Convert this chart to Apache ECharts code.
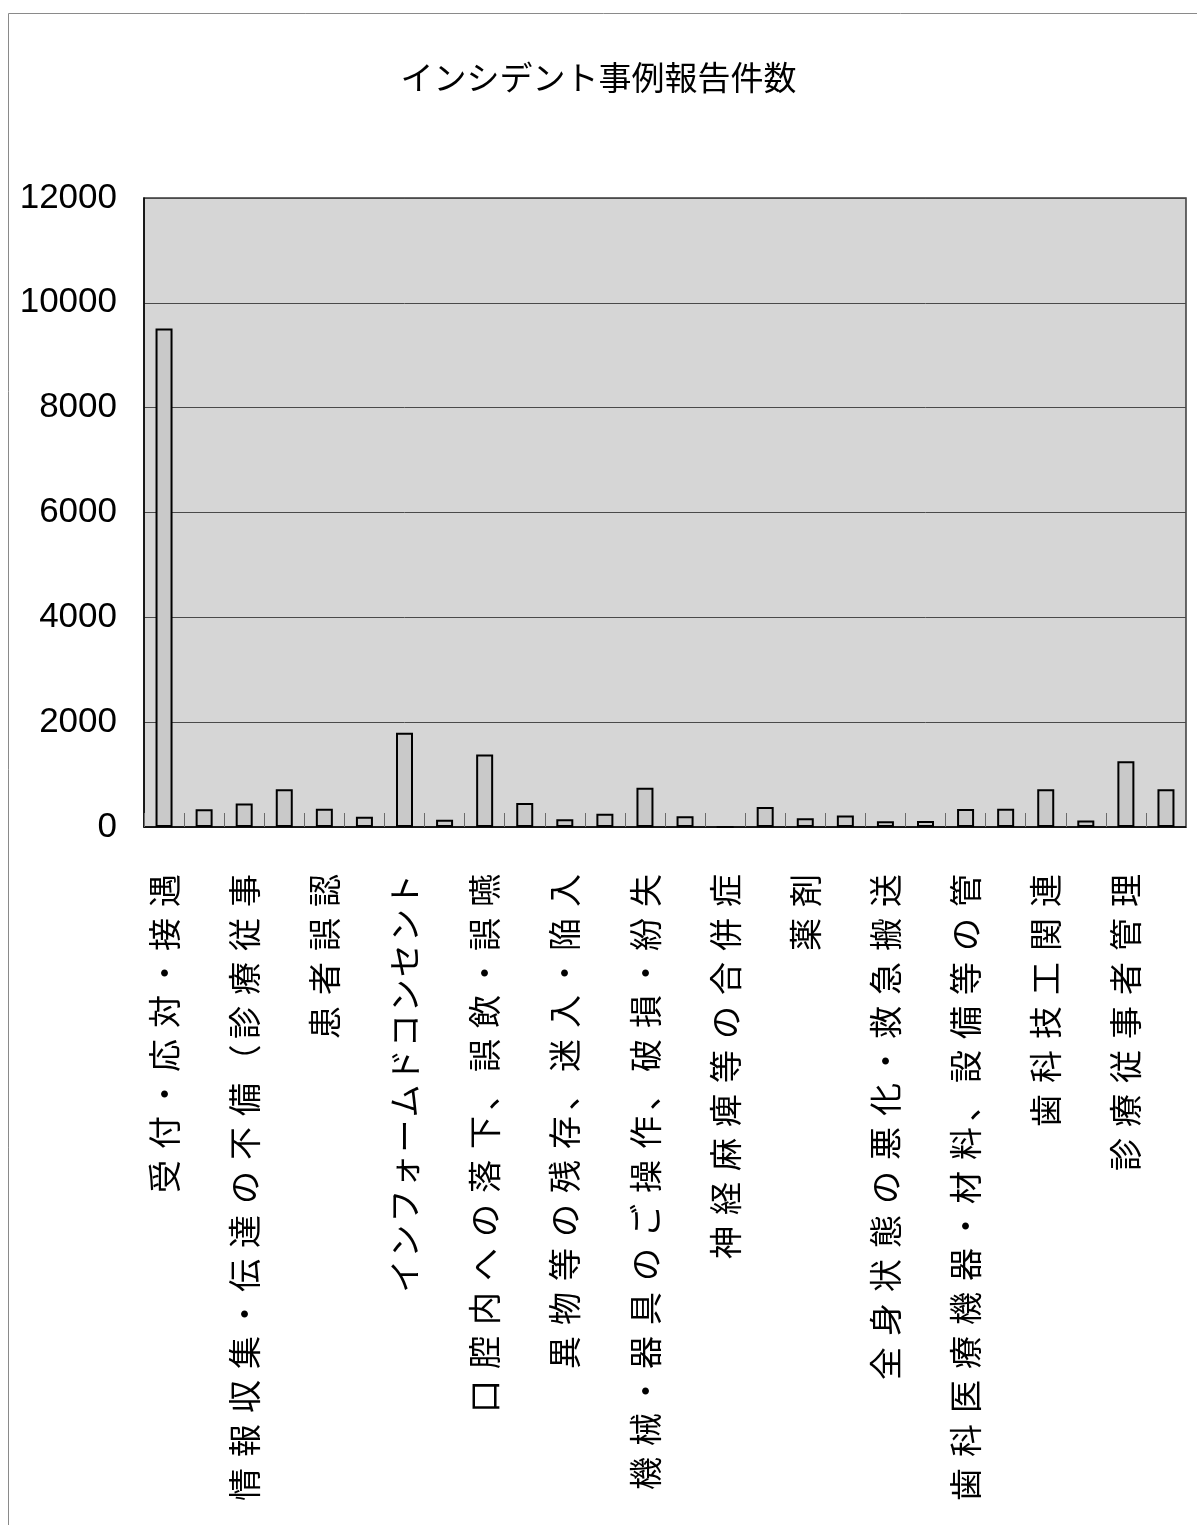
<!DOCTYPE html>
<html>
<head>
<meta charset="utf-8">
<script src="https://cdn.jsdelivr.net/npm/echarts@6/dist/echarts.min.js"></script>
<style>
  html, body { margin: 0; padding: 0; background: #fff; }
  #chart { width: 1197px; height: 1525px; }
</style>
</head>
<body>
<div id="chart"></div>
<script>
// インシデント事例報告件数 — one bar per incident category.
const titleText = 'インシデント事例報告件数';

// Category names; the axis prints every other one, the rest stay blank.
const categories = [
  '受付・応対・接遇', '',
  '情報収集・伝達の不備（診療従事', '',
  '患者誤認', '',
  'インフォームドコンセント', '',
  '口腔内への落下、誤飲・誤嚥', '',
  '異物等の残存、迷入・陥入', '',
  '機械・器具のご操作、破損・紛失', '',
  '神経麻痺等の合併症', '',
  '薬剤', '',
  '全身状態の悪化・救急搬送', '',
  '歯科医療機器・材料、設備等の管', '',
  '歯科技工関連', '',
  '診療従事者管理', ''
];

// Reported cases per category.
const counts = [
  9510, 340, 450, 720, 350, 195, 1800, 140, 1385, 460,
  150, 255, 750, 205, 0, 380, 165, 220, 110, 115,
  345, 350, 720, 125, 1255, 720
];

// Value axis ticks.
const yMin = 0, yMax = 12000, yStep = 2000;

// Space out the characters of a rotated category label:
// wide gaps between kanji, narrow ones inside katakana runs and
// around punctuation.
function spaced(s) {
  const ch = Array.from(s);
  const punct = '・、（';
  let out = '';
  for (let i = 0; i < ch.length; i++) {
    out += ch[i];
    if (i === ch.length - 1) continue;
    const a = ch[i], b = ch[i + 1];
    if (punct.includes(a) || punct.includes(b)) { out += '\u2006'; continue; }
    const kana = /[\u30A0-\u30FF]/.test(a) && /[\u30A0-\u30FF]/.test(b);
    out += kana ? '\u200A' : '\u2004';
  }
  return out;
}

const chart = echarts.init(document.getElementById('chart'), null, { renderer: 'canvas' });
chart.setOption({
  backgroundColor: '#ffffff',
  animation: false,
  title: {
    text: titleText,
    left: 'center',
    top: 56,
    textStyle: {
      fontFamily: 'Noto Sans CJK JP',
      fontSize: 33,
      fontWeight: 'normal',
      color: '#000'
    }
  },
  graphic: [{
    type: 'rect',
    silent: true,
    z: -1,
    shape: { x: 8.5, y: 13.5, width: 1400, height: 1700 },
    style: { fill: 'none', stroke: '#8a8a8a', lineWidth: 1 }
  }],
  grid: {
    left: 144, right: 11, top: 198, bottom: 698,
    show: true,
    backgroundColor: '#d6d6d6',
    borderColor: '#3a3a3a',
    borderWidth: 1.5
  },
  xAxis: {
    type: 'category',
    data: categories,
    boundaryGap: true,
    axisLine: { show: true, lineStyle: { color: '#000', width: 1.5 } },
    axisTick: {
      show: true, inside: true, length: 14, interval: 0,
      lineStyle: { color: '#6a6a6a', width: 1 }
    },
    axisLabel: {
      interval: 0,
      rotate: 90,
      margin: 47,
      padding: [8, 0, 0, 0],
      fontFamily: 'Noto Sans CJK JP',
      fontSize: 33,
      color: '#000',
      formatter: v => spaced(v)
    },
    splitLine: { show: false }
  },
  yAxis: {
    type: 'value',
    min: yMin, max: yMax, interval: yStep,
    axisLine: { show: true, lineStyle: { color: '#000', width: 1.5 } },
    axisTick: { show: false },
    axisLabel: {
      margin: 27,
      fontFamily: "'Liberation Sans Narrow', 'Arial Narrow', 'Liberation Sans', sans-serif",
      fontSize: 35,
      color: '#000',
      padding: [10, 0, 0, 0],
      formatter: v => String(v)
    },
    splitLine: { show: true, lineStyle: { color: '#4a4a4a', width: 1 } }
  },
  series: [{
    type: 'bar',
    data: counts,
    barWidth: 17,
    itemStyle: { color: '#c9c9c9', borderColor: '#000', borderWidth: 2 }
  }]
});
</script>
</body>
</html>
